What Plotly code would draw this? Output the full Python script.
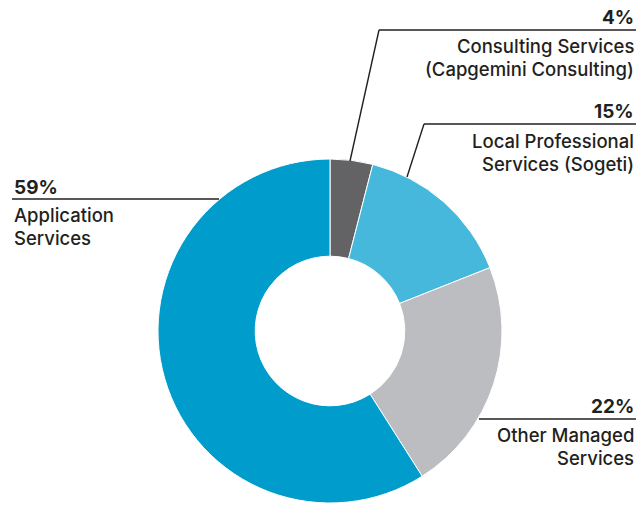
import plotly.graph_objects as go

# Revenue split by business line
segments = ["Consulting Services (Capgemini Consulting)",
            "Local Professional Services (Sogeti)",
            "Other Managed Services",
            "Application Services"]
shares = [4, 15, 22, 59]
pct_text = ["4%", "15%", "22%", "59%"]
label_lines = [["Consulting Services", "(Capgemini Consulting)"],
               ["Local Professional", "Services (Sogeti)"],
               ["Other Managed", "Services"],
               ["Application", "Services"]]
colors = ["#636365", "#45B8DC", "#BCBDC0", "#009CCB"]

W, H = 638, 505
CX, CY, R = 330, 331, 172


def px(x, y):
    return x / W, 1 - y / H


fig = go.Figure(go.Pie(
    labels=segments,
    values=shares,
    sort=False,
    direction="clockwise",
    rotation=0,
    hole=0.435,
    marker=dict(colors=colors, line=dict(color="white", width=1)),
    textinfo="none",
    hoverinfo="label+percent",
    domain=dict(x=[(CX - R) / W, (CX + R) / W],
                y=[1 - (CY + R) / H, 1 - (CY - R) / H]),
    showlegend=False,
))

txt_color = "#231F20"
font_lbl = dict(family="Inter, Liberation Sans, sans-serif", size=18.5, color=txt_color, weight=500)
font_pct = dict(family="Inter, Liberation Sans, sans-serif", size=19, color=txt_color, weight=700)

# leader lines (pixel paths)
leaders = [
    [(350, 161), (379, 30), (636, 30)],
    [(407, 177), (424, 124), (636, 124)],
    [(479, 419), (636, 419)],
    [(219, 199), (12, 199)],
]
shapes = []
for path in leaders:
    for (x0, y0), (x1, y1) in zip(path[:-1], path[1:]):
        a = px(x0, y0)
        b = px(x1, y1)
        shapes.append(dict(type="line", xref="paper", yref="paper",
                           x0=a[0], y0=a[1], x1=b[0], y1=b[1],
                           line=dict(color="#231F20", width=1.4)))

# label placement: (anchor x, percent y-center, first label line y-center, xanchor)
placement = [
    (636, 17, 46, "right"),
    (636, 112, 141, "right"),
    (636, 406, 435, "right"),
    (12, 187, 215, "left"),
]
annotations = []
for (ax, py_, ly, xa), p, lines in zip(placement, pct_text, label_lines):
    annotations.append(dict(x=px(ax, py_)[0], y=px(ax, py_)[1], xref="paper", yref="paper",
                            text=p, showarrow=False, xanchor=xa, yanchor="middle",
                            font=font_pct))
    for i, line in enumerate(lines):
        yy = ly + i * 22.5
        annotations.append(dict(x=px(ax, yy)[0], y=px(ax, yy)[1], xref="paper", yref="paper",
                                text=line, showarrow=False, xanchor=xa, yanchor="middle",
                                font=font_lbl))

fig.update_layout(
    width=W, height=H,
    margin=dict(l=0, r=0, t=0, b=0),
    paper_bgcolor="white",
    plot_bgcolor="white",
    shapes=shapes,
    annotations=annotations,
)

fig.write_html("out.html")
